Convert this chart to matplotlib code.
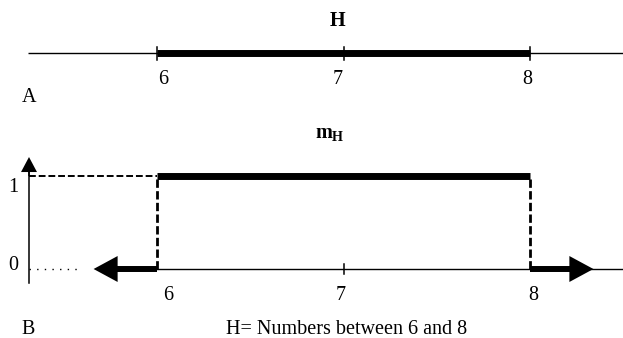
import matplotlib
matplotlib.use('Agg')
import matplotlib.pyplot as plt
from matplotlib.patches import FancyArrowPatch
from matplotlib.transforms import offset_copy

plt.rcParams['font.family'] = ['Liberation Serif', 'DejaVu Serif']
plt.rcParams['mathtext.fontset'] = 'custom'
plt.rcParams['mathtext.rm'] = 'Liberation Serif'
plt.rcParams['mathtext.bf'] = 'Liberation Serif:bold'

# ---------------- data ----------------
ticks = [6, 7, 8]
tick_labels = ['6', '7', '8']
interval = [6, 8]          # crisp set H
member_levels = [0, 1]     # membership values
member_labels = ['0', '1']
title_top = 'H'
caption = 'H= Numbers between 6 and 8'
panel_labels = ['A', 'B']
arrow_len = 0.34           # length of the "continues" arrows in x units

# ---------------- layout ----------------
W, H = 623, 338
fig = plt.figure(figsize=(W / 100, H / 100), dpi=100)
px_per_unit = (530 - 157) / 2.0
xl = 6 - 157 / px_per_unit
xr = xl + W / px_per_unit
PY = 93.0  # px per y unit
top_h = 120

ax_t = fig.add_axes([0, 1 - top_h / H, 1, top_h / H])
ax_b = fig.add_axes([0, 0, 1, (H - top_h) / H])
ax_t.set_xlim(xl, xr)
ax_t.set_ylim(-(top_h - 53) / PY, 53 / PY)
ax_b.set_xlim(xl, xr)
ax_b.set_ylim(-(H - 269) / PY, (269 - top_h) / PY)
for ax in (ax_t, ax_b):
    ax.axis('off')


def xpx(p):
    return xl + p / px_per_unit


def off(ax, dx_px):
    return offset_copy(ax.transData, fig=fig, x=dx_px * 0.72, y=0, units='points')


FS = 14.5

# ---------------- panel A ----------------
ax_t.plot([xpx(28), xr], [0, 0], color='black', lw=1.0, solid_capstyle='butt')
ax_t.plot(interval, [0, 0], color='black', lw=5.0, solid_capstyle='butt')
tick_h = 6.5 / PY
for t in ticks:
    ax_t.plot([t, t], [-tick_h, tick_h], color='black', lw=1.1)
lab_dx_t = [6, -6, -3]
for t, lab, dx in zip(ticks, tick_labels, lab_dx_t):
    ax_t.text(t, (53 - 79) / PY, lab, transform=off(ax_t, dx), ha='center',
              va='center', fontsize=FS)
ax_t.text(7, (53 - 21) / PY, title_top, transform=off(ax_t, -6), ha='center',
          va='center', fontsize=FS, fontweight='bold')
ax_t.text(xpx(29), (53 - 98) / PY, panel_labels[0], ha='center', va='center',
          fontsize=FS)

# ---------------- panel B ----------------
yax = xpx(29)
lo, hi = member_levels
# y axis with arrow head
ax_b.plot([yax, yax], [-0.15, 1.1], color='black', lw=1.1)
ax_b.add_patch(FancyArrowPatch((yax, 1.0), (yax, 1.204),
                               arrowstyle='simple,head_length=1.08,head_width=1.15,tail_width=0.11',
                               mutation_scale=10, lw=0, color='black',
                               shrinkA=0, shrinkB=0))
# dashed level 1 from axis to interval start
ax_b.plot([yax, interval[0]], [hi, hi], color='black', lw=1.4, ls=(0, (3.5, 1.5)))
# dotted level 0
ax_b.plot([yax, xpx(80)], [lo, lo], color='black', lw=1.0, ls=(0, (1, 4.5)))
# thin x axis
ax_b.plot([interval[0], xr], [lo, lo], color='black', lw=1.0)
# membership 1 on interval
ax_b.plot(interval, [hi, hi], color='black', lw=5.0, solid_capstyle='butt')
# dashed verticals
for x in interval:
    ax_b.plot([x, x], [lo, hi], color='black', lw=2.0, ls=(0, (3, 1.2)))
# membership 0 outside interval: thick arrows
for start, end in [(interval[0], interval[0] - arrow_len),
                   (interval[1], interval[1] + arrow_len)]:
    ax_b.add_patch(FancyArrowPatch((start, lo), (end, lo),
                                   arrowstyle='simple,head_length=1.73,head_width=1.87,tail_width=0.43',
                                   mutation_scale=10, lw=0, color='black',
                                   shrinkA=0, shrinkB=0))
# tick at 7
ax_b.plot([7, 7], [-5 / PY, 5 / PY], color='black', lw=1.1)
lab_dx_b = [11, -3, 3]
for t, lab, dx in zip(ticks, tick_labels, lab_dx_b):
    ax_b.text(t, (269 - 295) / PY, lab, transform=off(ax_b, dx), ha='center',
              va='center', fontsize=FS)
for v, lab in zip(member_levels, member_labels):
    ax_b.text(xpx(13), v + (-12 if v == 1 else 4) / PY, lab, ha='center',
              va='center', fontsize=FS)
ax_b.text(7, (269 - 135) / PY, r'$\mathbf{m}_{\mathbf{H}}$', transform=off(ax_b, -14),
          ha='center', va='center', fontsize=FS)
ax_b.text(xpx(347), (269 - 329) / PY, caption, ha='center', va='center', fontsize=FS)
ax_b.text(xpx(28), (269 - 329) / PY, panel_labels[1], ha='center', va='center',
          fontsize=FS)

fig.savefig('out.png', dpi=100, facecolor='white')
